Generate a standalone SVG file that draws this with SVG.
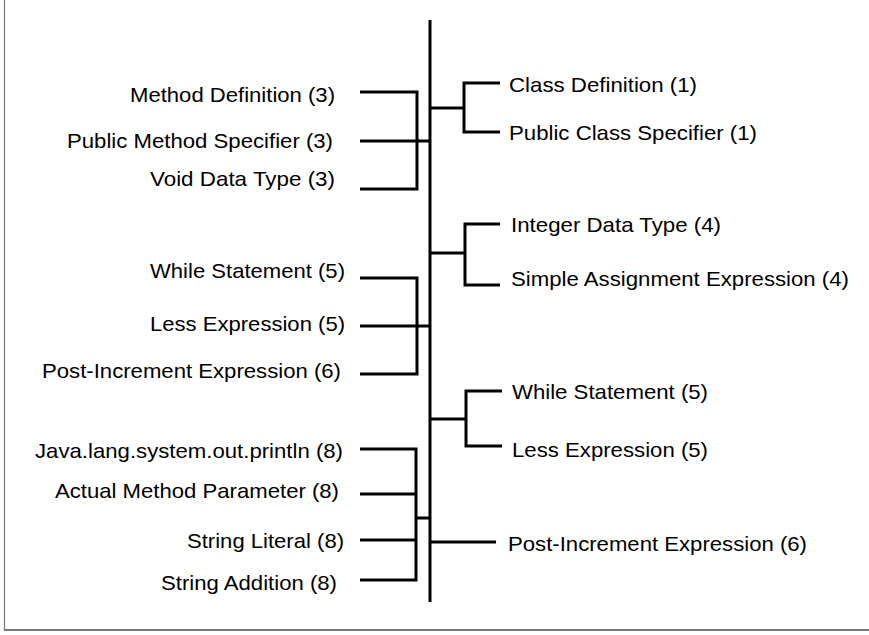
<svg xmlns="http://www.w3.org/2000/svg" width="869" height="635" viewBox="0 0 869 635">
<style>
.t{font-family:"Liberation Sans",Arial,sans-serif;font-size:21px;fill:#000}
.l{text-anchor:end}
.c{stroke:#000;stroke-width:3;fill:none;stroke-linecap:butt;stroke-linejoin:miter}
.b{stroke:#777;fill:none}
</style>
<rect width="869" height="635" fill="#fff"/>
<g id="frame">
<line class="b" x1="4.5" y1="0" x2="4.5" y2="630" stroke-width="1.2"/>
<line class="b" x1="4" y1="630" x2="869" y2="630" stroke-width="2"/>
</g>
<g id="connectors">
<line class="c" x1="430" y1="20" x2="430" y2="602"/>
<path class="c" d="M430 108H464M500 83H464V132H500"/>
<path class="c" d="M360 92H417V189H360M360 141H430"/>
<path class="c" d="M430 253H465M500 224H465V285H500"/>
<path class="c" d="M360 278H417V374H360M360 326H430"/>
<path class="c" d="M430 419H466M502 391H466V446H502"/>
<path class="c" d="M360 449H416V580H360M360 494H416M360 540H416M416 518H430"/>
<path class="c" d="M430 542H496"/>
</g>
<g id="n-method-def"><text class="t" x="130" y="102" textLength="205" lengthAdjust="spacingAndGlyphs">Method Definition (3)</text></g>
<g id="n-public-method"><text class="t" x="67" y="148" textLength="266" lengthAdjust="spacingAndGlyphs">Public Method Specifier (3)</text></g>
<g id="n-void"><text class="t" x="150" y="186" textLength="185" lengthAdjust="spacingAndGlyphs">Void Data Type (3)</text></g>
<g id="n-while-l"><text class="t" x="150" y="278" textLength="195" lengthAdjust="spacingAndGlyphs">While Statement (5)</text></g>
<g id="n-less-l"><text class="t" x="150" y="331" textLength="195" lengthAdjust="spacingAndGlyphs">Less Expression (5)</text></g>
<g id="n-postinc-l"><text class="t" x="42" y="378" textLength="299" lengthAdjust="spacingAndGlyphs">Post-Increment Expression (6)</text></g>
<g id="n-println"><text class="t" x="35" y="458" textLength="308" lengthAdjust="spacingAndGlyphs">Java.lang.system.out.println (8)</text></g>
<g id="n-actual"><text class="t" x="55" y="498" textLength="284" lengthAdjust="spacingAndGlyphs">Actual Method Parameter (8)</text></g>
<g id="n-strlit"><text class="t" x="187" y="548" textLength="157" lengthAdjust="spacingAndGlyphs">String Literal (8)</text></g>
<g id="n-stradd"><text class="t" x="161" y="590" textLength="176" lengthAdjust="spacingAndGlyphs">String Addition (8)</text></g>
<g id="n-class-def"><text class="t" x="509" y="92" textLength="188" lengthAdjust="spacingAndGlyphs">Class Definition (1)</text></g>
<g id="n-public-class"><text class="t" x="509" y="140" textLength="248" lengthAdjust="spacingAndGlyphs">Public Class Specifier (1)</text></g>
<g id="n-integer"><text class="t" x="511" y="232" textLength="210" lengthAdjust="spacingAndGlyphs">Integer Data Type (4)</text></g>
<g id="n-simple"><text class="t" x="511" y="286" textLength="338" lengthAdjust="spacingAndGlyphs">Simple Assignment Expression (4)</text></g>
<g id="n-while-r"><text class="t" x="512" y="399" textLength="196" lengthAdjust="spacingAndGlyphs">While Statement (5)</text></g>
<g id="n-less-r"><text class="t" x="512" y="457" textLength="196" lengthAdjust="spacingAndGlyphs">Less Expression (5)</text></g>
<g id="n-postinc-r"><text class="t" x="508" y="551" textLength="299" lengthAdjust="spacingAndGlyphs">Post-Increment Expression (6)</text></g>
</svg>
